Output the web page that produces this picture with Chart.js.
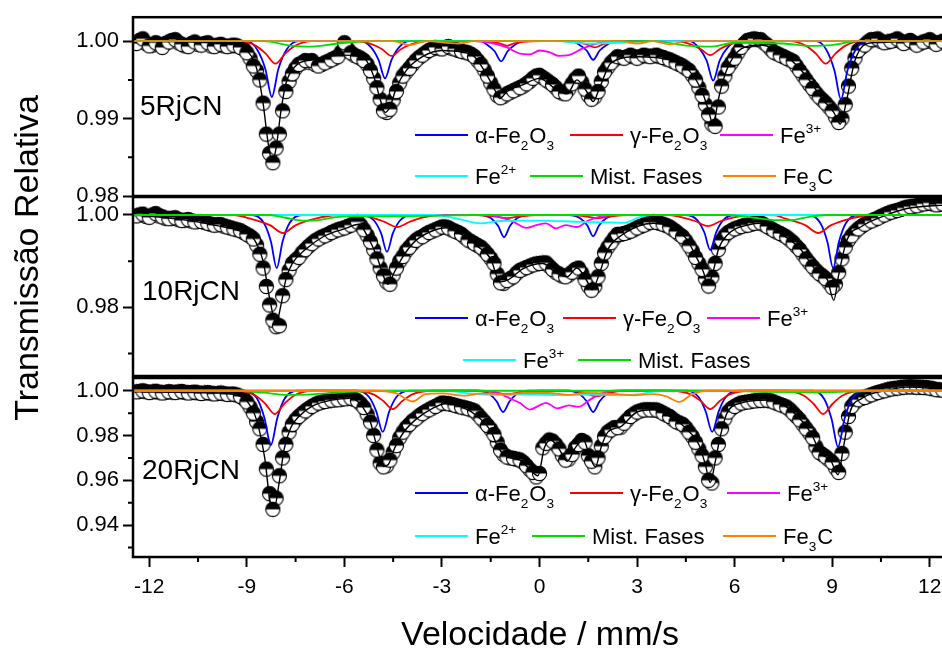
<!DOCTYPE html>
<html>
<head>
<meta charset="utf-8">
<script src="https://cdn.jsdelivr.net/npm/chart.js@4.4.1/dist/chart.umd.min.js"></script>
<style>
  html, body { margin: 0; padding: 0; background: #fff; overflow: hidden; width: 942px; height: 648px; }
  canvas { position: absolute; left: 0; top: 0; }
</style>
</head>
<body>
<canvas id="p1" width="950" height="648"></canvas>
<canvas id="p2" width="950" height="648"></canvas>
<canvas id="p3" width="950" height="648"></canvas>
<script>
const FONT = "'Liberation Sans', Arial, sans-serif";

// velocity channels (mm/s), even and odd sets
const vel = [-12.4,-12.2,-12.0,-11.8,-11.6,-11.4,-11.2,-11.0,-10.8,-10.6,-10.4,-10.2,-10.0,-9.8,-9.6,-9.4,-9.2,-9.0,-8.8,-8.6,-8.4,-8.2,-8.0,-7.8,-7.6,-7.4,-7.2,-7.0,-6.8,-6.6,-6.4,-6.2,-6.0,-5.8,-5.6,-5.4,-5.2,-5.0,-4.8,-4.6,-4.4,-4.2,-4.0,-3.8,-3.6,-3.4,-3.2,-3.0,-2.8,-2.6,-2.4,-2.2,-2.0,-1.8,-1.6,-1.4,-1.2,-1.0,-0.8,-0.6,-0.4,-0.2,0.0,0.2,0.4,0.6,0.8,1.0,1.2,1.4,1.6,1.8,2.0,2.2,2.4,2.6,2.8,3.0,3.2,3.4,3.6,3.8,4.0,4.2,4.4,4.6,4.8,5.0,5.2,5.4,5.6,5.8,6.0,6.2,6.4,6.6,6.8,7.0,7.2,7.4,7.6,7.8,8.0,8.2,8.4,8.6,8.8,9.0,9.2,9.4,9.6,9.8,10.0,10.2,10.4,10.6,10.8,11.0,11.2,11.4,11.6,11.8,12.0,12.2,12.4];
const velB = [-12.3,-12.1,-11.9,-11.7,-11.5,-11.3,-11.1,-10.9,-10.7,-10.5,-10.3,-10.1,-9.9,-9.7,-9.5,-9.3,-9.1,-8.9,-8.7,-8.5,-8.3,-8.1,-7.9,-7.7,-7.5,-7.3,-7.1,-6.9,-6.7,-6.5,-6.3,-6.1,-5.9,-5.7,-5.5,-5.3,-5.1,-4.9,-4.7,-4.5,-4.3,-4.1,-3.9,-3.7,-3.5,-3.3,-3.1,-2.9,-2.7,-2.5,-2.3,-2.1,-1.9,-1.7,-1.5,-1.3,-1.1,-0.9,-0.7,-0.5,-0.3,-0.1,0.1,0.3,0.5,0.7,0.9,1.1,1.3,1.5,1.7,1.9,2.1,2.3,2.5,2.7,2.9,3.1,3.3,3.5,3.7,3.9,4.1,4.3,4.5,4.7,4.9,5.1,5.3,5.5,5.7,5.9,6.1,6.3,6.5,6.7,6.9,7.1,7.3,7.5,7.7,7.9,8.1,8.3,8.5,8.7,8.9,9.1,9.3,9.5,9.7,9.9,10.1,10.3,10.5,10.7,10.9,11.1,11.3,11.5,11.7,11.9,12.1,12.3];

// measured transmission
const trans5 = [0.9997,1.0003,0.9994,0.9998,0.9992,0.9999,1.0002,0.9996,0.9993,0.9999,0.9995,0.9998,0.9993,0.9996,0.9993,0.9995,0.9992,0.9985,0.9968,0.9950,0.9880,0.9843,0.9880,0.9935,0.9958,0.9970,0.9975,0.9975,0.9968,0.9972,0.9976,0.9980,0.9998,0.9985,0.9980,0.9975,0.9962,0.9940,0.9910,0.9912,0.9935,0.9955,0.9965,0.9975,0.9982,0.9988,0.9992,0.9990,0.9993,0.9990,0.9987,0.9985,0.9980,0.9970,0.9955,0.9938,0.9927,0.9932,0.9936,0.9940,0.9945,0.9952,0.9956,0.9950,0.9944,0.9935,0.9932,0.9945,0.9955,0.9938,0.9925,0.9935,0.9960,0.9972,0.9980,0.9978,0.9982,0.9978,0.9982,0.9980,0.9982,0.9979,0.9976,0.9972,0.9968,0.9962,0.9950,0.9930,0.9905,0.9890,0.9942,0.9966,0.9978,0.9992,1.0001,1.0003,1.0002,0.9995,0.9986,0.9982,0.9978,0.9974,0.9962,0.9950,0.9939,0.9928,0.9920,0.9910,0.9895,0.9918,0.9965,0.9988,0.9995,1.0002,1.0003,0.9998,1.0000,1.0003,0.9997,1.0001,0.9995,0.9999,1.0002,0.9996,1.0000];
const trans5b = [1.0001,0.9997,0.9995,0.9996,0.9997,1.0001,0.9998,0.9994,0.9997,0.9996,0.9997,0.9994,0.9995,0.9994,0.9994,0.9994,0.9990,0.9978,0.9962,0.9920,0.9855,0.9862,0.9910,0.9948,0.9965,0.9972,0.9973,0.9970,0.9970,0.9974,0.9978,0.9986,0.9990,0.9982,0.9978,0.9970,0.9952,0.9925,0.9908,0.9924,0.9946,0.9960,0.9970,0.9979,0.9985,0.9990,0.9991,0.9992,0.9991,0.9988,0.9986,0.9983,0.9975,0.9963,0.9946,0.9930,0.9929,0.9934,0.9938,0.9942,0.9948,0.9955,0.9953,0.9947,0.9940,0.9933,0.9938,0.9951,0.9947,0.9930,0.9928,0.9948,0.9966,0.9976,0.9979,0.9980,0.9980,0.9980,0.9981,0.9981,0.9980,0.9977,0.9974,0.9970,0.9965,0.9956,0.9940,0.9918,0.9893,0.9915,0.9955,0.9972,0.9985,0.9997,1.0002,1.0002,0.9998,0.9990,0.9984,0.9980,0.9976,0.9968,0.9956,0.9944,0.9933,0.9924,0.9915,0.9902,0.9900,0.9942,0.9978,0.9992,0.9999,1.0002,1.0000,0.9999,1.0001,1.0000,0.9999,0.9998,0.9997,1.0000,0.9999,0.9998];
const trans10 = [0.9998,1.0002,0.9995,1.0003,0.9996,0.9992,0.9994,0.9988,0.9990,0.9985,0.9986,0.9982,0.9978,0.9979,0.9974,0.9970,0.9966,0.9958,0.9948,0.9915,0.9845,0.9772,0.9760,0.9860,0.9895,0.9908,0.9925,0.9938,0.9948,0.9955,0.9962,0.9968,0.9972,0.9978,0.9985,0.9968,0.9942,0.9905,0.9868,0.9850,0.9885,0.9910,0.9930,0.9945,0.9953,0.9962,0.9968,0.9974,0.9972,0.9965,0.9958,0.9946,0.9938,0.9930,0.9915,0.9895,0.9853,0.9858,0.9866,0.9880,0.9886,0.9892,0.9895,0.9896,0.9882,0.9872,0.9866,0.9876,0.9885,0.9860,0.9837,0.9866,0.9918,0.9940,0.9958,0.9960,0.9965,0.9972,0.9978,0.9984,0.9984,0.9980,0.9974,0.9964,0.9953,0.9933,0.9908,0.9882,0.9846,0.9895,0.9945,0.9962,0.9970,0.9975,0.9978,0.9982,0.9983,0.9975,0.9967,0.9960,0.9952,0.9940,0.9925,0.9905,0.9888,0.9873,0.9862,0.9843,0.9875,0.9930,0.9955,0.9970,0.9980,0.9987,0.9993,1.0000,1.0006,1.0010,1.0015,1.0018,1.0020,1.0024,1.0026,1.0022,1.0024];
const trans10b = [1.0000,0.9997,1.0000,0.9998,0.9993,0.9993,0.9990,0.9989,0.9987,0.9986,0.9984,0.9980,0.9979,0.9976,0.9972,0.9968,0.9962,0.9954,0.9935,0.9885,0.9805,0.9758,0.9825,0.9880,0.9902,0.9918,0.9932,0.9944,0.9952,0.9958,0.9965,0.9970,0.9975,0.9982,0.9978,0.9956,0.9925,0.9885,0.9855,0.9870,0.9900,0.9922,0.9938,0.9950,0.9958,0.9965,0.9971,0.9974,0.9968,0.9962,0.9952,0.9942,0.9934,0.9923,0.9906,0.9872,0.9852,0.9862,0.9874,0.9883,0.9889,0.9894,0.9896,0.9889,0.9876,0.9868,0.9870,0.9882,0.9874,0.9846,0.9845,0.9895,0.9930,0.9950,0.9958,0.9962,0.9968,0.9975,0.9981,0.9985,0.9982,0.9977,0.9969,0.9958,0.9944,0.9922,0.9895,0.9862,0.9865,0.9925,0.9955,0.9966,0.9972,0.9977,0.9980,0.9983,0.9979,0.9971,0.9963,0.9956,0.9946,0.9932,0.9915,0.9896,0.9880,0.9868,0.9853,0.9850,0.9905,0.9945,0.9963,0.9975,0.9984,0.9990,0.9997,1.0003,1.0008,1.0012,1.0017,1.0019,1.0022,1.0025,1.0024,1.0023];
const trans20 = [0.9995,1.0000,0.9992,0.9998,0.9990,0.9996,0.9992,0.9997,0.9990,0.9994,0.9988,0.9992,0.9986,0.9990,0.9984,0.9985,0.9975,0.9950,0.9900,0.9830,0.9650,0.9470,0.9620,0.9760,0.9850,0.9885,0.9910,0.9930,0.9945,0.9952,0.9958,0.9960,0.9964,0.9967,0.9955,0.9925,0.9860,0.9735,0.9660,0.9690,0.9755,0.9815,0.9850,0.9875,0.9898,0.9915,0.9930,0.9945,0.9942,0.9935,0.9927,0.9920,0.9910,0.9878,0.9845,0.9805,0.9735,0.9704,0.9698,0.9691,0.9665,0.9635,0.9630,0.9765,0.9775,0.9740,0.9690,0.9715,0.9760,0.9770,0.9685,0.9700,0.9795,0.9825,0.9835,0.9855,0.9885,0.9905,0.9914,0.9915,0.9914,0.9900,0.9885,0.9862,0.9850,0.9815,0.9770,0.9710,0.9600,0.9700,0.9830,0.9905,0.9930,0.9945,0.9950,0.9955,0.9957,0.9958,0.9950,0.9938,0.9927,0.9900,0.9870,0.9830,0.9790,0.9725,0.9705,0.9680,0.9635,0.9815,0.9930,0.9960,0.9970,0.9982,0.9992,1.0000,1.0008,1.0012,1.0016,1.0018,1.0016,1.0015,1.0012,1.0005,1.0003];
const trans20b = [0.9997,0.9996,0.9995,0.9994,0.9993,0.9994,0.9995,0.9993,0.9992,0.9991,0.9990,0.9989,0.9988,0.9987,0.9985,0.9981,0.9965,0.9927,0.9862,0.9760,0.9540,0.9520,0.9700,0.9815,0.9870,0.9898,0.9920,0.9938,0.9949,0.9955,0.9959,0.9962,0.9966,0.9962,0.9942,0.9895,0.9800,0.9677,0.9665,0.9725,0.9790,0.9835,0.9865,0.9888,0.9907,0.9923,0.9938,0.9944,0.9939,0.9931,0.9924,0.9915,0.9895,0.9862,0.9828,0.9770,0.9715,0.9700,0.9694,0.9680,0.9648,0.9615,0.9745,0.9780,0.9760,0.9710,0.9695,0.9745,0.9778,0.9710,0.9660,0.9752,0.9815,0.9835,0.9838,0.9870,0.9895,0.9910,0.9915,0.9914,0.9908,0.9892,0.9873,0.9856,0.9835,0.9795,0.9740,0.9660,0.9588,0.9760,0.9875,0.9920,0.9938,0.9948,0.9952,0.9956,0.9958,0.9955,0.9944,0.9933,0.9915,0.9885,0.9850,0.9811,0.9750,0.9715,0.9692,0.9655,0.9720,0.9885,0.9948,0.9966,0.9976,0.9987,0.9996,1.0004,1.0010,1.0014,1.0017,1.0017,1.0016,1.0014,1.0009,1.0004];

// fitted envelopes [v, T]
const fit5 = [[-12.5,1.0],[-9.4,0.9996],[-9.0,0.9988],[-8.7,0.9965],[-8.5,0.992],[-8.35,0.987],[-8.22,0.9845],[-8.1,0.9862],[-7.95,0.991],[-7.8,0.9945],[-7.5,0.9968],[-7.0,0.9976],[-6.0,0.9982],[-5.4,0.9978],[-5.1,0.9955],[-4.9,0.9925],[-4.75,0.9908],[-4.6,0.9915],[-4.4,0.994],[-4.1,0.9962],[-3.6,0.998],[-3.0,0.9988],[-2.4,0.9986],[-2.0,0.998],[-1.6,0.9955],[-1.35,0.9935],[-1.22,0.9926],[-1.0,0.9935],[-0.5,0.9944],[0.0,0.9952],[0.5,0.9938],[0.85,0.9932],[1.15,0.995],[1.45,0.9935],[1.65,0.9922],[1.85,0.994],[2.2,0.9972],[3.0,0.998],[4.0,0.9976],[4.6,0.9962],[5.0,0.9935],[5.2,0.991],[5.34,0.9892],[5.5,0.9925],[5.75,0.9962],[6.2,0.999],[6.8,0.9995],[7.6,0.998],[8.2,0.9955],[8.7,0.9925],[9.05,0.9908],[9.25,0.9893],[9.45,0.9925],[9.7,0.9975],[10.2,0.9998],[12.5,1.0]];
const fit10 = [[-12.5,1.0],[-11.0,0.999],[-10.0,0.9978],[-9.2,0.9965],[-8.8,0.995],[-8.5,0.990],[-8.3,0.982],[-8.1,0.9765],[-7.95,0.9805],[-7.8,0.986],[-7.6,0.9895],[-7.2,0.9925],[-6.6,0.9955],[-6.0,0.997],[-5.55,0.998],[-5.3,0.9955],[-5.0,0.991],[-4.8,0.9868],[-4.66,0.985],[-4.45,0.9878],[-4.2,0.991],[-3.8,0.9945],[-3.2,0.9968],[-2.9,0.9972],[-2.4,0.9958],[-1.9,0.9932],[-1.5,0.9905],[-1.22,0.9855],[-0.95,0.986],[-0.5,0.9884],[0.1,0.9895],[0.5,0.9875],[0.85,0.9866],[1.15,0.9885],[1.45,0.9858],[1.62,0.9838],[1.85,0.9875],[2.1,0.9925],[2.5,0.9955],[3.5,0.9982],[4.0,0.9975],[4.5,0.995],[4.85,0.9905],[5.05,0.9875],[5.17,0.9848],[5.35,0.988],[5.5,0.9925],[5.75,0.9955],[6.5,0.998],[6.8,0.9982],[7.4,0.996],[8.0,0.9928],[8.5,0.988],[8.85,0.986],[9.05,0.9815],[9.2,0.987],[9.45,0.9945],[9.9,0.9975],[10.6,0.9998],[11.3,1.0014],[12.5,1.0022]];
const fit20 = [[-12.5,0.9995],[-10.0,0.999],[-9.3,0.998],[-9.0,0.9955],[-8.7,0.987],[-8.45,0.97],[-8.25,0.9485],[-8.15,0.948],[-8.0,0.9595],[-7.85,0.974],[-7.65,0.9835],[-7.4,0.9885],[-7.0,0.993],[-6.4,0.9958],[-5.8,0.9966],[-5.45,0.993],[-5.2,0.986],[-5.0,0.975],[-4.8,0.9662],[-4.65,0.967],[-4.45,0.9745],[-4.2,0.981],[-3.8,0.9872],[-3.3,0.992],[-2.9,0.9942],[-2.4,0.9928],[-1.9,0.9885],[-1.5,0.982],[-1.25,0.974],[-1.0,0.9705],[-0.6,0.969],[-0.3,0.9648],[-0.05,0.962],[0.15,0.9745],[0.35,0.978],[0.6,0.974],[0.85,0.9685],[1.1,0.9745],[1.35,0.978],[1.55,0.9705],[1.72,0.966],[1.9,0.975],[2.1,0.9815],[2.5,0.984],[3.0,0.9905],[3.5,0.9915],[4.0,0.9885],[4.3,0.9858],[4.65,0.981],[4.9,0.976],[5.1,0.967],[5.25,0.959],[5.4,0.968],[5.55,0.979],[5.75,0.9895],[6.2,0.9945],[7.0,0.9958],[7.6,0.9927],[8.05,0.9868],[8.35,0.981],[8.65,0.972],[8.95,0.969],[9.18,0.9625],[9.35,0.975],[9.55,0.9905],[9.9,0.9965],[10.7,1.0002],[11.3,1.0016],[12.5,1.0006]];

// subspectra, 5RjCN
const alpha5 = [[-12.5,1.0],[-9.0,1.0],[-8.68,0.9989],[-8.43,0.9964],[-8.23,0.9928],[-8.03,0.9964],[-7.78,0.9989],[-7.4,1.0],[-5.5,1.0],[-5.2,0.9993],[-4.95,0.9976],[-4.75,0.9952],[-4.55,0.9976],[-4.3,0.9993],[-4.0,1.0],[-1.8,1.0],[-1.63,0.9996],[-1.38,0.9987],[-1.18,0.9974],[-0.98,0.9987],[-0.73,0.9996],[-0.5,1.0],[1.0,1.0],[1.2,0.9996],[1.45,0.9988],[1.65,0.9976],[1.85,0.9988],[2.1,0.9996],[2.3,1.0],[4.6,1.0],[4.89,0.9992],[5.14,0.9975],[5.34,0.9949],[5.54,0.9975],[5.79,0.9992],[6.1,1.0],[8.5,1.0],[8.82,0.9989],[9.07,0.9962],[9.27,0.9925],[9.47,0.9962],[9.72,0.9989],[10.1,1.0],[12.5,1.0]];
const gamma5 = [[-12.5,1.0],[-9.2,1.0],[-8.72,0.9994],[-8.42,0.9984],[-8.12,0.9971],[-7.82,0.9984],[-7.52,0.9994],[-7.0,1.0],[-5.65,1.0],[-5.15,0.9996],[-4.85,0.999],[-4.55,0.9981],[-4.25,0.999],[-3.95,0.9996],[-3.45,1.0],[-2.0,1.0],[-1.5,0.9999],[-1.2,0.9997],[-1.0,0.9994],[-0.8,0.9997],[-0.5,0.9999],[0.0,1.0],[0.8,1.0],[1.2,0.9998],[1.45,0.9996],[1.7,0.9992],[1.95,0.9996],[2.2,0.9998],[2.6,1.0],[4.15,1.0],[4.65,0.9996],[4.95,0.999],[5.25,0.9982],[5.55,0.999],[5.85,0.9996],[6.35,1.0],[7.7,1.0],[8.2,0.9994],[8.5,0.9984],[8.8,0.9971],[9.1,0.9984],[9.4,0.9994],[9.9,1.0],[12.5,1.0]];
const fe3_5 = [[-12.5,1.0],[-2.0,1.0],[-1.5,0.9998],[-1.0,0.9992],[-0.6,0.9984],[-0.3,0.9983],[0.0,0.9988],[0.3,0.9986],[0.6,0.9981],[0.9,0.9982],[1.3,0.999],[1.6,0.9995],[2.0,0.9999],[2.5,1.0],[12.5,1.0]];
const fe2_5 = [[-12.5,1.0],[0.5,1.0],[1.5,0.9997],[2.5,0.9998],[3.5,1.0],[12.5,1.0]];
const mist5 = [[-12.5,1.0],[-8.5,1.0],[-7.6,0.9994],[-7.0,0.9993],[-6.2,0.9997],[-5.0,1.0],[3.5,1.0],[4.6,0.9994],[5.3,0.9993],[6.0,0.9998],[7.5,0.9997],[8.3,0.9994],[9.0,0.9995],[9.8,1.0],[12.5,1.0]];
const fe3c5 = [[-12.5,1.0],[-4.5,1.0],[-4.0,0.9995],[-3.5,1.0],[-2.5,0.9997],[-2.0,1.0],[2.5,1.0],[3.0,0.9997],[3.5,1.0],[4.0,0.9996],[4.5,1.0],[12.5,1.0]];

// subspectra, 10RjCN
const alpha10 = [[-12.5,1.0],[-8.85,1.0],[-8.48,0.9983],[-8.26,0.99425],[-8.08,0.9885],[-7.9,0.99425],[-7.68,0.9983],[-7.3,1.0],[-5.45,1.0],[-5.09,0.9988],[-4.87,0.996],[-4.69,0.992],[-4.51,0.996],[-4.29,0.9988],[-3.93,1.0],[-1.85,1.0],[-1.49,0.9993],[-1.27,0.9976],[-1.09,0.9952],[-0.91,0.9976],[-0.69,0.9993],[-0.33,1.0],[0.89,1.0],[1.25,0.9993],[1.47,0.9977],[1.65,0.9954],[1.83,0.9977],[2.05,0.9993],[2.41,1.0],[4.49,1.0],[4.85,0.9989],[5.07,0.9962],[5.25,0.9924],[5.43,0.9962],[5.65,0.9989],[6.01,1.0],[8.27,1.0],[8.63,0.9983],[8.85,0.99425],[9.03,0.9885],[9.21,0.99425],[9.43,0.9983],[9.8,1.0],[12.5,1.0]];
const gamma10 = [[-12.5,1.0],[-9.4,1.0],[-8.89,0.9992],[-8.29,0.9978],[-7.89,0.9961],[-7.49,0.9978],[-6.89,0.9992],[-6.2,1.0],[-5.6,1.0],[-5.18,0.9995],[-4.78,0.99855],[-4.38,0.9974],[-3.98,0.99855],[-3.58,0.9995],[-3.0,1.0],[-2.0,1.0],[-1.4,0.9997],[-1.0,0.9993],[-0.6,0.9997],[0.0,1.0],[1.0,1.0],[1.4,0.9997],[1.8,0.9993],[2.2,0.9997],[2.7,1.0],[4.0,1.0],[4.38,0.9995],[4.78,0.9987],[5.18,0.9976],[5.58,0.9987],[5.98,0.9995],[6.5,1.0],[7.2,1.0],[7.57,0.9992],[8.17,0.9978],[8.57,0.9961],[8.97,0.9978],[9.57,0.9992],[10.2,1.0],[12.5,1.0]];
const fe3a10 = [[-12.5,1.0],[-1.6,1.0],[-1.2,0.9995],[-0.8,0.9985],[-0.4,0.9972],[-0.1,0.9978],[0.2,0.9982],[0.5,0.9971],[0.8,0.9978],[1.15,0.9974],[1.5,0.9988],[1.9,0.9997],[2.3,1.0],[12.5,1.0]];
const fe3b10 = [[-12.5,1.0],[-3.2,1.0],[-2.6,0.9993],[-2.1,0.9985],[-1.8,0.9982],[-1.2,0.9987],[0.0,0.9988],[1.3,0.9985],[2.2,0.9984],[2.6,0.9983],[3.0,0.9993],[3.4,1.0],[12.5,1.0]];
const mist10 = [[-12.5,1.0],[-8.3,1.0],[-7.8,0.9994],[-7.3,0.9988],[-6.8,0.9989],[-6.3,0.9995],[-5.5,0.9997],[-3.5,0.9998],[-2.0,1.0],[5.8,1.0],[6.6,0.9994],[7.2,0.9989],[7.7,0.9989],[8.2,0.9995],[8.8,1.0],[12.5,1.0]];

// subspectra, 20RjCN
const alpha20 = [[-12.5,1.0],[-9.05,1.0],[-8.68,0.9964],[-8.46,0.9879],[-8.26,0.9758],[-8.06,0.9879],[-7.84,0.9964],[-7.45,1.0],[-5.6,1.0],[-5.24,0.9972],[-5.02,0.9908],[-4.82,0.9816],[-4.62,0.9908],[-4.4,0.9972],[-4.0,1.0],[-1.9,1.0],[-1.54,0.9986],[-1.32,0.9953],[-1.12,0.9905],[-0.92,0.9953],[-0.7,0.9986],[-0.35,1.0],[0.87,1.0],[1.23,0.9986],[1.45,0.9953],[1.65,0.9905],[1.85,0.9953],[2.07,0.9986],[2.43,1.0],[4.53,1.0],[4.89,0.9972],[5.11,0.9908],[5.31,0.9816],[5.51,0.9908],[5.73,0.9972],[6.1,1.0],[8.4,1.0],[8.76,0.9962],[8.98,0.98745],[9.18,0.9749],[9.38,0.98745],[9.6,0.9962],[10.0,1.0],[12.5,1.0]];
const gamma20 = [[-12.5,1.0],[-9.3,1.0],[-8.74,0.9979],[-8.44,0.9943],[-8.14,0.9896],[-7.84,0.9943],[-7.54,0.9979],[-7.0,1.0],[-5.7,1.0],[-5.11,0.9984],[-4.81,0.9955],[-4.51,0.9918],[-4.21,0.9955],[-3.91,0.9984],[-3.3,1.0],[-2.0,1.0],[-1.5,0.9995],[-1.0,0.9985],[-0.5,0.9995],[0.0,1.0],[0.9,1.0],[1.35,0.9992],[1.75,0.9975],[2.15,0.9992],[2.6,1.0],[4.05,1.0],[4.65,0.9984],[4.95,0.9955],[5.25,0.9918],[5.55,0.9955],[5.85,0.9984],[6.45,1.0],[7.55,1.0],[8.12,0.9979],[8.42,0.9943],[8.72,0.9896],[9.02,0.9943],[9.32,0.9979],[9.9,1.0],[12.5,1.0]];
const fe3_20 = [[-12.5,1.0],[-1.8,1.0],[-1.3,0.9992],[-0.9,0.9965],[-0.6,0.9945],[-0.3,0.9916],[0.0,0.9935],[0.2,0.9946],[0.55,0.9921],[0.9,0.9935],[1.2,0.9928],[1.5,0.9955],[1.85,0.9985],[2.3,1.0],[12.5,1.0]];
const fe2_20 = [[-12.5,1.0],[-2.8,1.0],[-2.2,0.9988],[-1.5,0.9982],[-0.5,0.9984],[0.5,0.9981],[1.5,0.9983],[2.5,0.998],[3.1,0.9985],[3.5,0.9996],[4.0,1.0],[12.5,1.0]];
const mist20 = [[-12.5,1.0],[-9.5,1.0],[-8.5,0.9992],[-7.8,0.9982],[-7.0,0.9984],[-6.2,0.9992],[-5.0,0.9998],[-2.0,1.0],[5.5,1.0],[7.0,0.9995],[8.5,0.9993],[9.5,0.9996],[10.5,1.0],[12.5,1.0]];
const fe3c20 = [[-12.5,1.0],[-5.0,1.0],[-4.4,0.9988],[-3.9,0.9952],[-3.5,0.9985],[-3.0,0.9988],[-2.3,0.9978],[-1.8,0.9988],[-1.0,0.9985],[-0.5,0.999],[0.3,0.999],[0.9,0.9982],[1.4,0.999],[2.4,0.9985],[2.9,0.998],[3.5,0.9985],[3.9,0.9975],[4.3,0.995],[4.7,0.9985],[5.2,1.0],[12.5,1.0]];

// axis ticks
const xTicks = [-12, -9, -6, -3, 0, 3, 6, 9, 12];
const xMinor = [-10.5, -7.5, -4.5, -1.5, 1.5, 4.5, 7.5, 10.5];
const yTicks5 = [0.98, 0.99, 1.00];
const yMinor5 = [0.985, 0.995];
const yTicks10 = [0.98, 1.00];
const yMinor10 = [0.97, 0.99];
const yTicks20 = [0.94, 0.96, 0.98, 1.00];
const yMinor20 = [0.93, 0.95, 0.97, 0.99];

// legend labels: [text, 'sub'|'sup'|'']
const lbAlpha = [['α-Fe', ''], ['2', 'sub'], ['O', ''], ['3', 'sub']];
const lbGamma = [['γ-Fe', ''], ['2', 'sub'], ['O', ''], ['3', 'sub']];
const lbFe3 = [['Fe', ''], ['3+', 'sup']];
const lbFe2 = [['Fe', ''], ['2+', 'sup']];
const lbMist = [['Mist. Fases', '']];
const lbFe3C = [['Fe', ''], ['3', 'sub'], ['C', '']];

const C = { blue: '#0000ff', red: '#ff0000', mag: '#ff00ff', cyan: '#00ffff', green: '#00dd00', orange: '#ff8000' };

// half-filled circle marker
function halfDot() {
  const c = document.createElement('canvas');
  c.width = 17; c.height = 17;
  const g = c.getContext('2d');
  g.beginPath(); g.arc(8.5, 8.5, 7.1, 0, Math.PI * 2); g.fillStyle = '#fff'; g.fill();
  g.beginPath(); g.arc(8.5, 8.5, 7.1, Math.PI, 0); g.closePath(); g.fillStyle = '#000'; g.fill();
  g.beginPath(); g.arc(8.5, 8.5, 7.1, 0, Math.PI * 2); g.lineWidth = 1.1; g.strokeStyle = '#000'; g.stroke();
  return c;
}
const dot = halfDot();

function richText(ctx, parts, x, y, size) {
  let cx = x;
  parts.forEach(([txt, kind]) => {
    const s = kind ? size * 0.62 : size;
    const dy = kind === 'sub' ? size * 0.32 : kind === 'sup' ? -size * 0.42 : 0;
    ctx.font = s + 'px ' + FONT;
    ctx.fillText(txt, cx, y + dy);
    cx += ctx.measureText(txt).width + (kind ? 1 : 0);
  });
}

function makeDeco(p) {
  return {
    id: 'deco_' + p.id,
    afterDraw(chart) {
      const { ctx, chartArea: a, scales } = chart;
      ctx.save();
      ctx.strokeStyle = '#000';
      ctx.lineWidth = 2.5;
      ctx.strokeRect(a.left, a.top, a.right - a.left, a.bottom - a.top);
      ctx.lineWidth = 2;
      ctx.beginPath();
      p.yMinor.forEach(v => {
        const py = scales.y.getPixelForValue(v);
        ctx.moveTo(a.left - 5, py); ctx.lineTo(a.left, py);
      });
      if (p.showX) {
        xMinor.forEach(v => {
          const px = scales.x.getPixelForValue(v);
          ctx.moveTo(px, a.bottom); ctx.lineTo(px, a.bottom + 5);
        });
      }
      ctx.stroke();

      ctx.fillStyle = '#000';
      ctx.textAlign = 'left';
      ctx.textBaseline = 'alphabetic';
      ctx.font = '28px ' + FONT;
      ctx.fillText(p.name, p.nameX, p.nameY);

      p.legend.forEach(it => {
        ctx.strokeStyle = it.color;
        ctx.lineWidth = 2;
        ctx.beginPath(); ctx.moveTo(it.x, it.y); ctx.lineTo(it.x + 53, it.y); ctx.stroke();
        ctx.fillStyle = '#000';
        richText(ctx, it.label, it.x + 60, it.y + 7.5, 22);
      });

      if (p.showX) {
        ctx.fillStyle = '#000';
        ctx.font = '34px ' + FONT;
        ctx.textAlign = 'center';
        ctx.fillText('Velocidade / mm/s', 540, 645);
        ctx.translate(38, 258);
        ctx.rotate(-Math.PI / 2);
        ctx.fillText('Transmissão Relativa', 0, 0);
      }
      ctx.restore();
    }
  };
}

function makePanel(p) {
  const datasets = [];
  p.comps.forEach((c, i) => datasets.push({
    data: c.data, showLine: true, borderColor: c.color, borderWidth: 1.8,
    pointRadius: 0, cubicInterpolationMode: 'monotone', order: 1 - i * 0.1
  }));
  datasets.push({
    data: p.fit, showLine: true, borderColor: '#000', borderWidth: 1.4,
    pointRadius: 0, cubicInterpolationMode: 'monotone', order: 2
  });
  datasets.push({
    data: vel.map((v, i) => ({ x: v, y: p.values[i] })),
    showLine: false, pointStyle: dot, pointRadius: 7, order: 3
  });
  datasets.push({
    data: velB.map((v, i) => ({ x: v, y: p.valuesB[i] })),
    showLine: false, pointStyle: dot, pointRadius: 7, order: 3.1
  });

  new Chart(document.getElementById(p.id), {
    type: 'scatter',
    data: { datasets },
    options: {
      responsive: false,
      animation: false,
      events: [],
      layout: { autoPadding: false, padding: { left: 0, right: 4, top: p.top, bottom: p.bottom } },
      plugins: { legend: { display: false }, tooltip: { enabled: false } },
      scales: {
        x: {
          type: 'linear', min: -12.5, max: 12.5, display: p.showX,
          afterBuildTicks: s => { s.ticks = xTicks.map(v => ({ value: v })); },
          afterFit: s => { s.height = p.showX ? 50 : 0; },
          border: { display: false },
          grid: { drawOnChartArea: false, drawTicks: true, tickLength: 10, tickWidth: 2, tickColor: '#000' },
          ticks: { color: '#000', font: { family: FONT, size: 21 }, padding: 8, maxRotation: 0, autoSkip: false, callback: v => String(v) }
        },
        y: {
          min: p.yMin, max: p.yMax,
          afterBuildTicks: s => { s.ticks = p.yTicks.map(v => ({ value: v })); },
          afterFit: s => { s.width = 133; },
          border: { display: false },
          grid: { drawOnChartArea: false, drawTicks: true, tickLength: 10, tickWidth: 2, tickColor: '#000' },
          ticks: { color: '#000', font: { family: FONT, size: 22 }, padding: 4, autoSkip: false, callback: v => v.toFixed(2) }
        }
      }
    },
    plugins: [makeDeco(p)]
  });
}

makePanel({
  id: 'p1', name: '5RjCN', nameX: 140, nameY: 115,
  top: 15, bottom: 648 - 196, yMin: 0.98, yMax: 1.0031, yTicks: yTicks5, yMinor: yMinor5, showX: false,
  values: trans5, valuesB: trans5b, fit: fit5,
  comps: [
    { data: alpha5, color: C.blue }, { data: gamma5, color: C.red }, { data: fe3_5, color: C.mag },
    { data: fe2_5, color: C.cyan }, { data: mist5, color: C.green }, { data: fe3c5, color: C.orange }
  ],
  legend: [
    { x: 415, y: 135, color: C.blue, label: lbAlpha }, { x: 570, y: 135, color: C.red, label: lbGamma },
    { x: 720, y: 135, color: C.mag, label: lbFe3 },
    { x: 415, y: 176, color: C.cyan, label: lbFe2 }, { x: 530, y: 176, color: C.green, label: lbMist },
    { x: 723, y: 176, color: C.orange, label: lbFe3C }
  ]
});

makePanel({
  id: 'p2', name: '10RjCN', nameX: 142, nameY: 300,
  top: 197, bottom: 648 - 376, yMin: 0.9651, yMax: 1.0039, yTicks: yTicks10, yMinor: yMinor10, showX: false,
  values: trans10, valuesB: trans10b, fit: fit10,
  comps: [
    { data: alpha10, color: C.blue }, { data: gamma10, color: C.red }, { data: fe3a10, color: C.mag },
    { data: fe3b10, color: C.cyan }, { data: mist10, color: C.green }
  ],
  legend: [
    { x: 415, y: 318, color: C.blue, label: lbAlpha }, { x: 563, y: 318, color: C.red, label: lbGamma },
    { x: 707, y: 318, color: C.mag, label: lbFe3 },
    { x: 463, y: 360, color: C.cyan, label: lbFe3 }, { x: 578, y: 360, color: C.green, label: lbMist }
  ]
});

makePanel({
  id: 'p3', name: '20RjCN', nameX: 142, nameY: 479,
  top: 378, bottom: 648 - 557 - 50, yMin: 0.9257, yMax: 1.0057, yTicks: yTicks20, yMinor: yMinor20, showX: true,
  values: trans20, valuesB: trans20b, fit: fit20,
  comps: [
    { data: alpha20, color: C.blue }, { data: gamma20, color: C.red }, { data: fe3_20, color: C.mag },
    { data: fe2_20, color: C.cyan }, { data: mist20, color: C.green }, { data: fe3c20, color: C.orange }
  ],
  legend: [
    { x: 415, y: 493, color: C.blue, label: lbAlpha }, { x: 570, y: 493, color: C.red, label: lbGamma },
    { x: 727, y: 493, color: C.mag, label: lbFe3 },
    { x: 415, y: 536, color: C.cyan, label: lbFe2 }, { x: 532, y: 536, color: C.green, label: lbMist },
    { x: 723, y: 536, color: C.orange, label: lbFe3C }
  ]
});
</script>
</body>
</html>
